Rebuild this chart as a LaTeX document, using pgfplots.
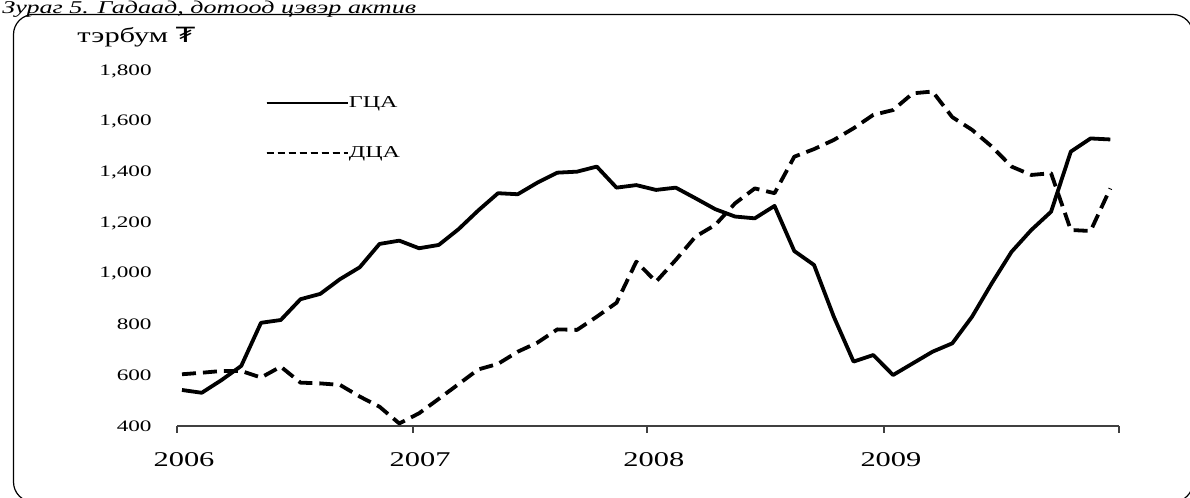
\documentclass[border=0pt]{standalone}
\usepackage{pgfplots}
\pgfplotsset{compat=1.18}
\usepackage{pgfplotstable}
\usepackage{graphicx}
\usepackage{fontspec}
\setmainfont{Liberation Serif}
\newfontfamily\dejavu{DejaVu Sans}
\newcommand{\sx}[1]{\scalebox{1.45}[1]{#1}}

\pgfplotstableread{
i gca dca
0 542 604
1 531 610
2 581 617
3 637 617
4 807 591
5 818 634
6 900 571
7 921 568
8 979 562
9 1026 516
10 1118 476
11 1131 410
12 1101 450
13 1114 507
14 1176 565
15 1250 623
16 1318 645
17 1314 693
18 1360 729
19 1399 781
20 1403 779
21 1423 831
22 1340 886
23 1350 1048
24 1331 969
25 1340 1055
26 1298 1147
27 1255 1193
28 1226 1278
29 1219 1337
30 1268 1318
31 1090 1462
32 1035 1492
33 831 1528
34 654 1574
35 680 1627
36 601 1646
37 647 1712
38 693 1719
39 726 1618
40 831 1568
41 963 1502
42 1087 1423
43 1173 1390
44 1245 1397
45 1482 1173
46 1534 1169
47 1530 1337
}\data

\begin{document}
\begin{tikzpicture}
\useasboundingbox (0,0) rectangle (595pt,249pt);
\clip (0,0) rectangle (595pt,249pt);
\draw[black, line width=0.6pt, rounded corners=10pt] (6.75pt,-2pt) rectangle (596.5pt,241.75pt);
\node[anchor=base west, inner sep=0pt, font=\fontsize{9}{10}\selectfont\itshape] at (1pt,242.4pt) {\sx{Зураг 5. Гадаад, дотоод цэвэр актив}};
\node[anchor=base west, inner sep=0pt, font=\fontsize{10.5}{12}\selectfont] at (38.5pt,227.5pt) {\sx{тэрбум {\dejavu ₮}}};
\begin{axis}[
  at={(88.5pt,36pt)}, anchor=south west,
  width=471pt, height=177.5pt, scale only axis,
  xmin=-0.253, xmax=47.44, ymin=400, ymax=1800,
  axis x line=bottom, axis y line=left,
  axis line style={-},
  y axis line style={draw=none},
  x axis line style={black!75, line width=0.6pt},
  xtick={-0.253,11.70,23.54,35.54,47.44},
  xticklabels={\sx{2006},\sx{2007},\sx{2008},\sx{2009},},
  tick align=outside,
  major tick length=3.5pt,
  xtick style={black!75, line width=0.6pt},
  ytick={400,600,...,1800},
  ytick style={draw=none},
  /pgf/number format/assume math mode=true,
  /pgf/number format/1000 sep={,},
  yticklabel={\sx{\pgfmathprintnumber{\tick}}},
  yticklabel style={anchor=east, inner sep=0pt, xshift=-9pt, font=\fontsize{8}{8}\selectfont},
  xticklabel style={anchor=north, inner sep=0pt, yshift=-9.5pt, xshift=3.5pt, font=\fontsize{10.5}{11}\selectfont},
  clip=false,
  legend style={draw=none, fill=none, at={(axis description cs:0.0935,0.93)}, anchor=north west,
    font=\fontsize{8.3}{10}\selectfont, row sep=18pt, inner sep=0pt,
    nodes={inner sep=0pt}},
  legend cell align=left,
  legend image code/.code={\draw[#1] (0pt,0pt) -- (35.5pt,0pt); \path (0pt,0pt) -- (40.5pt,0pt);},
]
\addlegendimage{black, line width=1.2pt}
\addlegendentry{\sx{ГЦА}}
\addlegendimage{black, line width=1.2pt, dash pattern=on 3.7pt off 1.8pt}
\addlegendentry{\sx{ДЦА}}
\addplot[black, line width=1.9pt, line join=round, forget plot] table[x=i,y=gca]{\data};
\addplot[black, line width=1.9pt, line join=round, dash pattern=on 7pt off 3.5pt, forget plot] table[x=i,y=dca]{\data};
\end{axis}
\end{tikzpicture}
\end{document}
